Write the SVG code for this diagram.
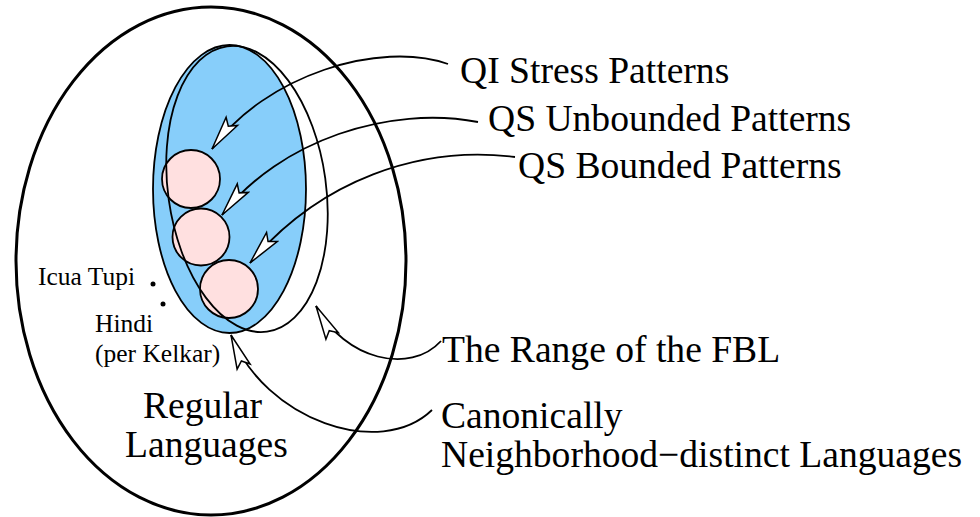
<svg xmlns="http://www.w3.org/2000/svg" width="980" height="517" viewBox="0 0 980 517">
<style>
.line{fill:none;stroke:#000;stroke-width:1.8}
.lbl{font-family:"Liberation Serif","Times New Roman",serif;font-size:37.6px;fill:#000}
.sm{font-family:"Liberation Serif","Times New Roman",serif;font-size:25.5px;fill:#000}
.circ{fill:#ffe0e0;stroke:#000;stroke-width:1.8}
</style>
<defs>
<marker id="ah" markerUnits="userSpaceOnUse" orient="auto" viewBox="-36 -9 38 18" markerWidth="38" markerHeight="18" refX="0" refY="0">
<path d="M0,0 L-34,-7 L-28,0 L-34,7 Z" fill="#fff" stroke="#000" stroke-width="1.5" stroke-linejoin="miter"/>
</marker>
</defs>
<rect width="980" height="517" fill="#fff"/>
<g id="regular">
<ellipse cx="211" cy="261" rx="195" ry="254" fill="none" stroke="#000" stroke-width="3"/>
<text class="lbl" x="143" y="418">Regular</text>
<text class="lbl" x="125" y="457">Languages</text>
</g>
<g id="cnd">
<ellipse cx="229.5" cy="189" rx="76.5" ry="144" fill="#87cefa" stroke="#000" stroke-width="1.8"/>
</g>
<g id="qi"><circle class="circ" cx="191" cy="179" r="29"/></g>
<g id="qsu"><circle class="circ" cx="201" cy="237" r="28.5"/></g>
<g id="qsb"><circle class="circ" cx="229" cy="289" r="29"/></g>
<g id="fbl">
<ellipse cx="0" cy="0" rx="79" ry="144" transform="translate(247 189) rotate(-8)" class="line"/>
</g>
<g id="icua">
<circle cx="153" cy="284" r="2.5" fill="#000"/>
<text class="sm" x="38" y="285">Icua Tupi</text>
</g>
<g id="hindi">
<circle cx="163" cy="304" r="2.5" fill="#000"/>
<text class="sm" x="95" y="332">Hindi</text>
<text class="sm" x="95" y="362">(per Kelkar)</text>
</g>
<g id="labels">
<text class="lbl" x="460" y="83">QI Stress Patterns</text>
<text class="lbl" x="488" y="131">QS Unbounded Patterns</text>
<text class="lbl" x="518" y="178">QS Bounded Patterns</text>
<text class="lbl" x="442" y="362">The Range of the FBL</text>
<text class="lbl" x="441" y="428">Canonically</text>
<text class="lbl" x="441" y="467">Neighborhood−distinct Languages</text>
</g>
<g id="connectors">
<path class="line" marker-end="url(#ah)" d="M448,64 C380,40 265,75 212,149"/>
<path class="line" marker-end="url(#ah)" d="M478,122 C390,105 280,140 222,215"/>
<path class="line" marker-end="url(#ah)" d="M515,157 C420,145 320,180 250,263"/>
<path class="line" marker-end="url(#ah)" d="M441,341 C410,375 345,360 316,306"/>
<path class="line" marker-end="url(#ah)" d="M432,410 C380,460 265,420 231,335"/>
</g>
</svg>
